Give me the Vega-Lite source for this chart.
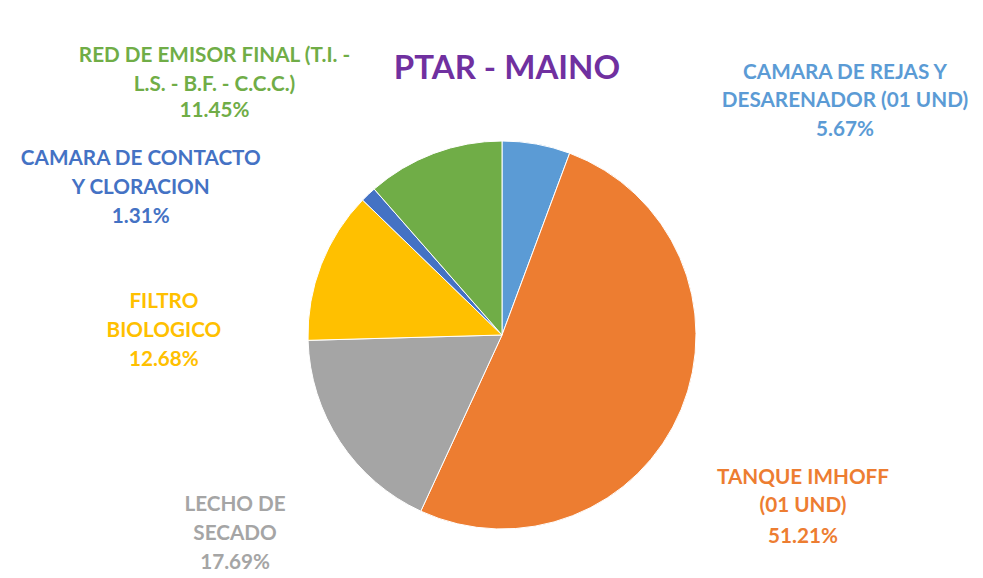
{
  "$schema": "https://vega.github.io/schema/vega-lite/v6.json",
  "width": 388,
  "height": 388,
  "autosize": {"type": "none"},
  "padding": {"left": 308, "top": 141, "right": 287, "bottom": 49},
  "background": "#ffffff",
  "title": {
    "text": "PTAR - MAINO",
    "frame": "group",
    "anchor": "middle",
    "baseline": "alphabetic",
    "offset": 0,
    "dy": 76,
    "dx": 5,
    "font": "Lato",
    "fontSize": 33,
    "fontWeight": "bold",
    "color": "#7030A0"
  },
  "data": {
    "values": [
      {"orden": 1, "componente": "CAMARA DE REJAS Y DESARENADOR (01 UND)", "lineas": "CAMARA DE REJAS Y\nDESARENADOR (01 UND)", "pct": 0.0567},
      {"orden": 2, "componente": "TANQUE IMHOFF (01 UND)", "lineas": "TANQUE IMHOFF\n(01 UND)", "pct": 0.5121},
      {"orden": 3, "componente": "LECHO DE SECADO", "lineas": "LECHO DE\nSECADO", "pct": 0.1769},
      {"orden": 4, "componente": "FILTRO BIOLOGICO", "lineas": "FILTRO\nBIOLOGICO", "pct": 0.1268},
      {"orden": 5, "componente": "CAMARA DE CONTACTO Y CLORACION", "lineas": "CAMARA DE CONTACTO\nY CLORACION", "pct": 0.0131},
      {"orden": 6, "componente": "RED DE EMISOR FINAL (T.I. - L.S. - B.F. - C.C.C.)", "lineas": "RED DE EMISOR FINAL (T.I. -\nL.S. - B.F. - C.C.C.)", "pct": 0.1145}
    ]
  },
  "encoding": {
    "theta": {"field": "pct", "type": "quantitative", "stack": true},
    "order": {"field": "orden", "type": "quantitative"},
    "color": {
      "field": "componente",
      "type": "nominal",
      "scale": {
        "domain": ["CAMARA DE REJAS Y DESARENADOR (01 UND)", "TANQUE IMHOFF (01 UND)", "LECHO DE SECADO", "FILTRO BIOLOGICO", "CAMARA DE CONTACTO Y CLORACION", "RED DE EMISOR FINAL (T.I. - L.S. - B.F. - C.C.C.)"],
        "range": ["#5B9BD5", "#ED7D31", "#A5A5A5", "#FFC000", "#4472C4", "#70AD47"]
      },
      "legend": null
    }
  },
  "layer": [
    {"mark": {"type": "arc", "stroke": "#ffffff", "strokeWidth": 1}},
    {"mark": {"type": "text", "radius": 194, "dx": 308.6, "dy": -71.1, "font": "Lato", "fontSize": 20.7, "fontWeight": "bold", "lineHeight": 28.5, "lineBreak": "\n", "align": "center", "baseline": "middle"},
     "encoding": {"text": {"condition": {"test": "datum.orden === 1", "field": "lineas", "type": "nominal"}, "value": ""}}},
    {"mark": {"type": "text", "radius": 194, "dx": 308.6, "dy": -14.1, "font": "Lato", "fontSize": 20.7, "fontWeight": "bold", "align": "center", "baseline": "middle"},
     "encoding": {"text": {"condition": {"test": "datum.orden === 1", "field": "pct", "type": "quantitative", "format": ".2%"}, "value": ""}}},
    {"mark": {"type": "text", "radius": 194, "dx": 121.9, "dy": 68.4, "font": "Lato", "fontSize": 20.7, "fontWeight": "bold", "lineHeight": 28.5, "lineBreak": "\n", "align": "center", "baseline": "middle"},
     "encoding": {"text": {"condition": {"test": "datum.orden === 2", "field": "lineas", "type": "nominal"}, "value": ""}}},
    {"mark": {"type": "text", "radius": 194, "dx": 121.9, "dy": 127.4, "font": "Lato", "fontSize": 20.7, "fontWeight": "bold", "align": "center", "baseline": "middle"},
     "encoding": {"text": {"condition": {"test": "datum.orden === 2", "field": "pct", "type": "quantitative", "format": ".2%"}, "value": ""}}},
    {"mark": {"type": "text", "radius": 194, "dx": -105, "dy": 63.2, "font": "Lato", "fontSize": 20.7, "fontWeight": "bold", "lineHeight": 28.5, "lineBreak": "\n", "align": "center", "baseline": "middle"},
     "encoding": {"text": {"condition": {"test": "datum.orden === 3", "field": "lineas", "type": "nominal"}, "value": ""}}},
    {"mark": {"type": "text", "radius": 194, "dx": -105, "dy": 121.2, "font": "Lato", "fontSize": 20.7, "fontWeight": "bold", "align": "center", "baseline": "middle"},
     "encoding": {"text": {"condition": {"test": "datum.orden === 3", "field": "pct", "type": "quantitative", "format": ".2%"}, "value": ""}}},
    {"mark": {"type": "text", "radius": 194, "dx": -157.3, "dy": 37.5, "font": "Lato", "fontSize": 20.7, "fontWeight": "bold", "lineHeight": 28.5, "lineBreak": "\n", "align": "center", "baseline": "middle"},
     "encoding": {"text": {"condition": {"test": "datum.orden === 4", "field": "lineas", "type": "nominal"}, "value": ""}}},
    {"mark": {"type": "text", "radius": 194, "dx": -157.3, "dy": 95.5, "font": "Lato", "fontSize": 20.7, "fontWeight": "bold", "align": "center", "baseline": "middle"},
     "encoding": {"text": {"condition": {"test": "datum.orden === 4", "field": "pct", "type": "quantitative", "format": ".2%"}, "value": ""}}},
    {"mark": {"type": "text", "radius": 194, "dx": -227.5, "dy": -35.3, "font": "Lato", "fontSize": 20.7, "fontWeight": "bold", "lineHeight": 28.5, "lineBreak": "\n", "align": "center", "baseline": "middle"},
     "encoding": {"text": {"condition": {"test": "datum.orden === 5", "field": "lineas", "type": "nominal"}, "value": ""}}},
    {"mark": {"type": "text", "radius": 194, "dx": -227.5, "dy": 22.7, "font": "Lato", "fontSize": 20.7, "fontWeight": "bold", "align": "center", "baseline": "middle"},
     "encoding": {"text": {"condition": {"test": "datum.orden === 5", "field": "pct", "type": "quantitative", "format": ".2%"}, "value": ""}}},
    {"mark": {"type": "text", "radius": 194, "dx": -219.2, "dy": -97, "font": "Lato", "fontSize": 20.7, "fontWeight": "bold", "lineHeight": 28.5, "lineBreak": "\n", "align": "center", "baseline": "middle"},
     "encoding": {"text": {"condition": {"test": "datum.orden === 6", "field": "lineas", "type": "nominal"}, "value": ""}}},
    {"mark": {"type": "text", "radius": 194, "dx": -219.2, "dy": -42.4, "font": "Lato", "fontSize": 20.7, "fontWeight": "bold", "align": "center", "baseline": "middle"},
     "encoding": {"text": {"condition": {"test": "datum.orden === 6", "field": "pct", "type": "quantitative", "format": ".2%"}, "value": ""}}}
  ],
  "config": {"view": {"stroke": null}}
}
